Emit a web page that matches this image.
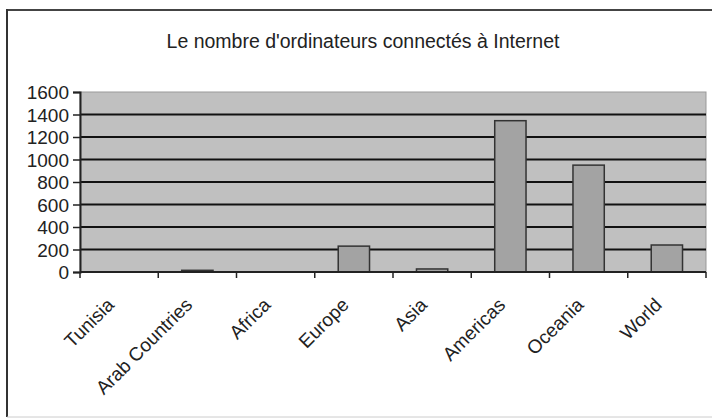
<!DOCTYPE html>
<html>
<head>
<meta charset="utf-8">
<script src="https://cdn.jsdelivr.net/npm/d3@7"></script>
<style>
  body { margin: 0; background: #fff; }
  text { font-family: "Liberation Sans", Arial, sans-serif; fill: #222; }
</style>
</head>
<body>
<div class="chart"></div>
<script>
const width = 712;
const height = 419;

const title = "Le nombre d'ordinateurs connectés à Internet";
const regions = ["Tunisia", "Arab Countries", "Africa", "Europe", "Asia", "Americas", "Oceania", "World"];
const computers = [1, 15, 2, 230, 27, 1345, 950, 240];
const yTicks = [0, 200, 400, 600, 800, 1000, 1200, 1400, 1600];

const margin = { left: 80, right: 6, top: 92, bottom: 147 };

const svg = d3
  .select(".chart")
  .append("svg")
  .attr("width", width)
  .attr("height", height);

// outer frame (cut off on the right)
svg.append("line")
  .attr("x1", 6).attr("x2", width).attr("y1", 10).attr("y2", 10)
  .attr("stroke", "#444").attr("stroke-width", 2);
svg.append("line")
  .attr("x1", 7).attr("x2", 7).attr("y1", 9).attr("y2", 417)
  .attr("stroke", "#333").attr("stroke-width", 2);
svg.append("line")
  .attr("x1", 7).attr("x2", width).attr("y1", 417).attr("y2", 417)
  .attr("stroke", "#ccc").attr("stroke-width", 1);

svg.append("text")
  .attr("x", 363)
  .attr("y", 48)
  .attr("text-anchor", "middle")
  .style("font-size", "19.5px")
  .text(title);

const xScale = d3
  .scaleBand()
  .domain(regions)
  .range([margin.left, width - margin.right])
  .paddingInner(0.6)
  .paddingOuter(0.3);

const bandScale = d3
  .scaleBand()
  .domain(regions)
  .range([margin.left, width - margin.right]);

const yScale = d3
  .scaleLinear()
  .domain([0, 1600])
  .range([height - margin.bottom, margin.top]);

// plot background
svg.append("rect")
  .attr("x", margin.left)
  .attr("y", yScale(1600))
  .attr("width", width - margin.right - margin.left)
  .attr("height", yScale(0) - yScale(1600))
  .attr("fill", "#c0c0c0")
  .attr("stroke", "#999")
  .attr("stroke-width", 1);

// gridlines
svg.append("g")
  .selectAll("line")
  .data(yTicks.filter((d) => d > 0 && d < 1600))
  .enter()
  .append("line")
  .attr("x1", margin.left)
  .attr("x2", width - margin.right)
  .attr("y1", (d) => yScale(d))
  .attr("y2", (d) => yScale(d))
  .attr("stroke", "#111")
  .attr("stroke-width", 2);

svg.append("g")
  .selectAll("rect")
  .data(regions)
  .enter()
  .append("rect")
  .attr("x", (d) => xScale(d))
  .attr("width", xScale.bandwidth())
  .attr("y", (d, i) => yScale(computers[i]))
  .attr("height", (d, i) => yScale(0) - yScale(computers[i]))
  .attr("fill", "#a3a3a3")
  .attr("stroke", "#333")
  .attr("stroke-width", 1.5);

const yAxis = d3
  .axisLeft(yScale)
  .tickValues(yTicks)
  .tickFormat(d3.format("d"))
  .tickSize(7)
  .tickPadding(4);
const gy = svg.append("g")
  .attr("transform", "translate(" + margin.left + ",0)")
  .call(yAxis);
gy.selectAll("text").style("font-size", "19px").attr("dy", "0.36em");

// x axis: ticks sit between categories
const xAxis = svg.append("g");
xAxis.append("line")
  .attr("x1", margin.left)
  .attr("x2", width - margin.right)
  .attr("y1", yScale(0))
  .attr("y2", yScale(0))
  .attr("stroke", "#222")
  .attr("stroke-width", 2);
xAxis.selectAll(".tick")
  .data(regions.concat(["end"]))
  .enter()
  .append("line")
  .attr("x1", (d) => (d === "end" ? width - margin.right : bandScale(d)))
  .attr("x2", (d) => (d === "end" ? width - margin.right : bandScale(d)))
  .attr("y1", yScale(0))
  .attr("y2", yScale(0) + 6)
  .attr("stroke", "#222")
  .attr("stroke-width", 1.5);

xAxis.selectAll("text")
  .data(regions)
  .enter()
  .append("text")
  .attr("text-anchor", "end")
  .style("font-size", "19px")
  .attr("transform", (d) =>
    "translate(" + (bandScale(d) + bandScale.bandwidth() / 2 - 4) + "," + (yScale(0) + 34) + ") rotate(-45)")
  .text((d) => d);

gy.select(".domain").attr("stroke", "#222").attr("stroke-width", 2);
gy.selectAll(".tick line").attr("stroke", "#222").attr("stroke-width", 1.5);
</script>
</body>
</html>
